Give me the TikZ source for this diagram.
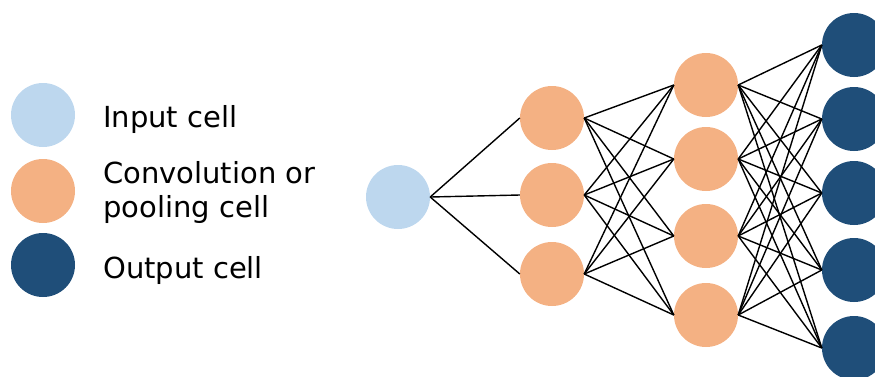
\documentclass[tikz,border=0pt]{standalone}
\usepackage{fontspec}
\setmainfont{DejaVu Sans}
\definecolor{inblue}{HTML}{BDD7EE}
\definecolor{convorange}{HTML}{F4B183}
\definecolor{outblue}{HTML}{1F4E79}
\begin{document}
\begin{tikzpicture}[x=1pt,y=-1pt,
  cell/.style={circle,minimum size=64pt,inner sep=0pt,draw=none},
  incell/.style={cell,fill=inblue},
  convcell/.style={cell,fill=convorange},
  outcell/.style={cell,fill=outblue},
  conn/.style={draw=black,line width=1.4pt},
  legend/.style={anchor=base west,inner sep=0pt,font=\fontsize{29}{34}\selectfont,text=black,align=left}]
\useasboundingbox (0,0) rectangle (875,376);
% legend
\node[incell] (li) at (43,115) {};
\node[convcell] (lc) at (43,191) {};
\node[outcell] (lo) at (43,265) {};
\node[legend] (ti) at (103,127) {Input cell};
\node[legend] (tc) at (103,217) {Convolution or\\pooling cell};
\node[legend] (to) at (103,278) {Output cell};
% network
\node[incell] (i) at (398,197) {};
\node[convcell] (a1) at (552,118) {};
\node[convcell] (a2) at (552,195) {};
\node[convcell] (a3) at (552,274) {};
\node[convcell] (b1) at (706,85) {};
\node[convcell] (b2) at (706,159) {};
\node[convcell] (b3) at (706,236) {};
\node[convcell] (b4) at (706,315) {};
\node[outcell] (c1) at (854,45) {};
\node[outcell] (c2) at (854,119) {};
\node[outcell] (c3) at (854,193) {};
\node[outcell] (c4) at (854,270) {};
\node[outcell] (c5) at (854,348) {};
\foreach \a in {a1,a2,a3} \draw[conn] (i.east) -- (\a.west);
\foreach \a in {a1,a2,a3} \foreach \b in {b1,b2,b3,b4} \draw[conn] (\a.east) -- (\b.west);
\foreach \b in {b1,b2,b3,b4} \foreach \c in {c1,c2,c3,c4,c5} \draw[conn] (\b.east) -- (\c.west);
\end{tikzpicture}
\end{document}
